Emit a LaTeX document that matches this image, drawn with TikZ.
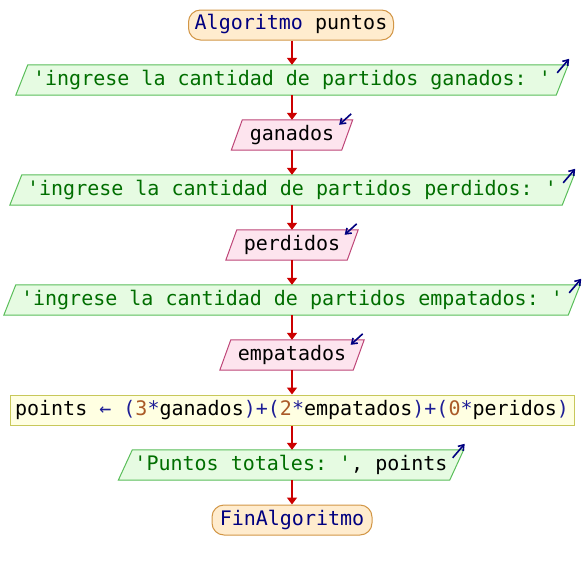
\documentclass[tikz,border=0pt]{standalone}
\usepackage{fontspec}
\setmonofont{DejaVu Sans Mono}
\usetikzlibrary{arrows.meta,backgrounds}
\definecolor{termfill}{RGB}{255,236,206}
\definecolor{termdraw}{RGB}{210,150,70}
\definecolor{outfill}{RGB}{230,251,226}
\definecolor{outdraw}{RGB}{90,190,90}
\definecolor{infill}{RGB}{253,228,238}
\definecolor{indraw}{RGB}{190,70,120}
\definecolor{asgfill}{RGB}{255,255,226}
\definecolor{asgdraw}{RGB}{200,200,90}
\definecolor{flowred}{RGB}{204,0,0}
\definecolor{kw}{RGB}{0,0,128}
\definecolor{strg}{RGB}{0,110,0}
\definecolor{num}{RGB}{170,90,40}
\definecolor{op}{RGB}{30,30,150}
\definecolor{icon}{RGB}{0,0,128}
\tikzset{
  base/.style={font=\ttfamily\fontsize{20}{22}\selectfont, inner sep=0pt, minimum height=30pt, text height=14pt, text depth=4pt},
  term/.style={base, draw=termdraw, fill=termfill, rounded corners=12pt, line width=1pt},
  slant/.style={base},
  asg/.style={base, draw=asgdraw, fill=asgfill, line width=1pt},
  flow/.style={draw=flowred, line width=1.8pt, -{Triangle[length=7pt,width=10pt]}},
  io/.style={draw=icon, line width=1.6pt, -{Straight Barb[length=5pt,width=7pt]}}
}
% parallelogram drawn behind a named node: name, fill, draw, skew
\newcommand\slantshape[4]{%
  \begin{scope}[on background layer]
    \path[fill=#2, draw=#3, line width=1pt]
      ([xshift=#4]#1.north west) -- ([xshift=#4]#1.north east) --
      ([xshift=-#4]#1.south east) -- ([xshift=-#4]#1.south west) -- cycle;
  \end{scope}}
\begin{document}
\begin{tikzpicture}[x=1pt,y=-1pt]
\useasboundingbox (0,0) rectangle (584,570);

\node[term, minimum width=205pt] (start) at (291,25) {{\color{kw}Algoritmo} puntos};

\node[slant, minimum width=540pt] (out1) at (292,80)
  {\color{strg}'ingrese la cantidad de partidos ganados: '};
\slantshape{out1}{outfill}{outdraw}{6pt}

\node[slant, minimum width=110pt] (in1) at (292,135) {ganados};
\slantshape{in1}{infill}{indraw}{5.5pt}

\node[slant, minimum width=552pt] (out2) at (292,190)
  {\color{strg}'ingrese la cantidad de partidos perdidos: '};
\slantshape{out2}{outfill}{outdraw}{6pt}

\node[slant, minimum width=121pt] (in2) at (292,245) {perdidos};
\slantshape{in2}{infill}{indraw}{5.5pt}

\node[slant, minimum width=564pt] (out3) at (292,300)
  {\color{strg}'ingrese la cantidad de partidos empatados: '};
\slantshape{out3}{outfill}{outdraw}{6pt}

\node[slant, minimum width=133pt] (in3) at (292,355) {empatados};
\slantshape{in3}{infill}{indraw}{5.5pt}

\node[asg, minimum width=564pt] (asg) at (292,410)
  {points {\color{op}← (}{\color{num}3}{\color{op}*}ganados{\color{op})+(}{\color{num}2}{\color{op}*}empatados{\color{op})+(}{\color{num}0}{\color{op}*}peridos{\color{op})}};

\node[slant, minimum width=331pt] (out4) at (291,465)
  {{\color{strg}'Puntos totales: '}, points};
\slantshape{out4}{outfill}{outdraw}{7pt}

\node[term, minimum width=160pt] (end) at (292,520) {\color{kw}FinAlgoritmo};

% flow connectors
\draw[flow] (start.south -| out1) -- (out1.north);
\draw[flow] (out1) -- (in1);
\draw[flow] (in1) -- (out2);
\draw[flow] (out2) -- (in2);
\draw[flow] (in2) -- (out3);
\draw[flow] (out3) -- (in3);
\draw[flow] (in3) -- (asg);
\draw[flow] (asg) -- (out4.north -| asg);
\draw[flow] (out4.south -| asg) -- (end);

% input / output markers
\draw[io] ([xshift=-5pt,yshift=-8pt]out1.north east) -- ++(12,-14);
\draw[io] ([xshift=-5pt,yshift=-8pt]out2.north east) -- ++(12,-14);
\draw[io] ([xshift=-5pt,yshift=-8pt]out3.north east) -- ++(12,-14);
\draw[io] ([xshift=-4pt,yshift=-8pt]out4.north east) -- ++(12,-14);
\draw[io] ([xshift=4pt,yshift=6pt]in1.north east) -- ++(-12,11);
\draw[io] ([xshift=4pt,yshift=6pt]in2.north east) -- ++(-12,11);
\draw[io] ([xshift=4pt,yshift=6pt]in3.north east) -- ++(-12,11);
\end{tikzpicture}
\end{document}
